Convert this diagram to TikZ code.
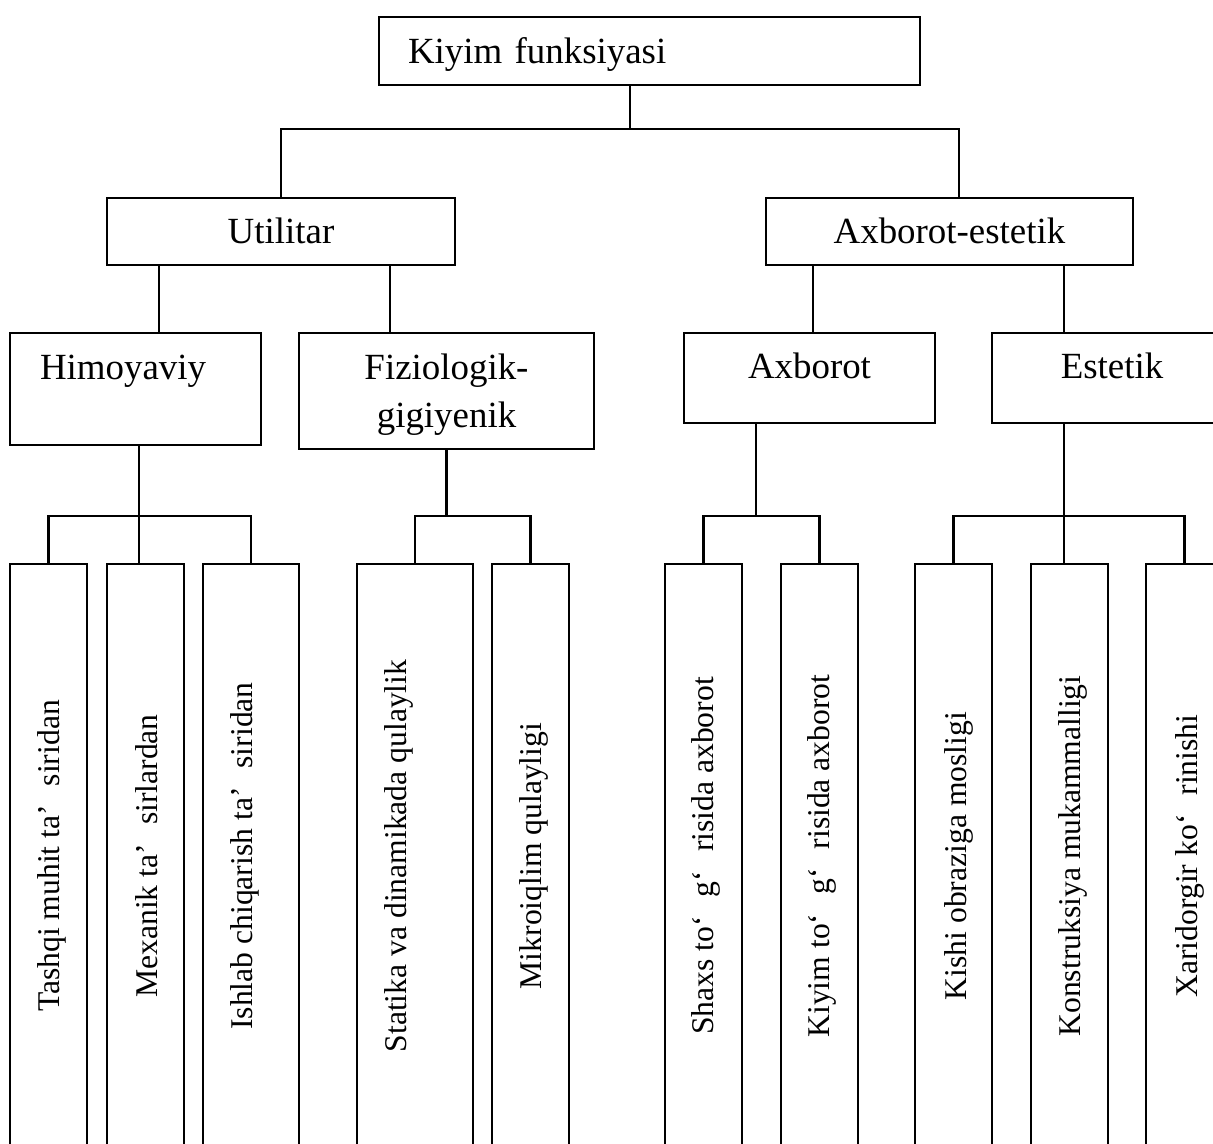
\documentclass[tikz,border=0pt]{standalone}
\usepackage{fontspec}
\setmainfont{Liberation Serif}
\newcommand{\tb}{\hspace{.6em}}
\begin{document}
\begin{tikzpicture}[x=0.1mm,y=-0.1mm,line width=0.6pt,
  box/.style={draw,inner sep=0pt,anchor=north,font=\fontsize{10.5}{13.9}\selectfont},
  leaf/.style={draw,inner sep=0pt,anchor=north,minimum height=58.7mm},
  leaftext/.style={rotate=90,inner sep=0pt,font=\fontsize{9}{11}\selectfont}]
\clip (0,0) rectangle (1213,1144);

% upper boxes
\node[box,minimum width=54.1mm,text width=48.3mm,align=left,inner xsep=2.9mm,text height=4.6mm,text depth=2.2mm] (kiyim) at (649.5,16) {Kiyim funksiyasi};
\node[box,minimum width=34.8mm,text height=4.5mm,text depth=2.2mm] (util) at (281,197) {Utilitar};
\node[box,minimum width=36.7mm,text height=4.5mm,text depth=2.2mm] (axest) at (949.5,197) {Axborot-estetik};

\node[box,minimum width=25.1mm,text width=19.1mm,align=left,inner xsep=3mm,text height=4.6mm,text depth=6.6mm] (himoya) at (135.5,332) {Himoyaviy};
\node[box,minimum width=29.5mm,text width=28mm,align=center,text height=4.6mm,text depth=7mm] (fiz) at (446.5,332) {Fiziologik-\\gigiyenik};
\node[box,minimum width=25.1mm,text height=4.5mm,text depth=4.5mm] (axb) at (809.5,332) {Axborot};
\node[box,minimum width=24mm,text height=4.5mm,text depth=4.5mm] (est) at (1112,332) {Estetik};

% leaves
\node[leaf,minimum width=7.7mm] (l1) at (48.5,563) {};
\node[leaf,minimum width=7.7mm] (l2) at (145.5,563) {};
\node[leaf,minimum width=9.6mm] (l3) at (251,563) {};
\node[leaf,minimum width=11.6mm] (l4) at (415,563) {};
\node[leaf,minimum width=7.7mm] (l5) at (530.5,563) {};
\node[leaf,minimum width=7.7mm] (l6) at (703.5,563) {};
\node[leaf,minimum width=7.7mm] (l7) at (819.5,563) {};
\node[leaf,minimum width=7.7mm] (l8) at (953.5,563) {};
\node[leaf,minimum width=7.7mm] (l9) at (1069.5,563) {};
\node[leaf,minimum width=7.7mm] (l10) at (1184.5,563) {};

\node[leaftext] (t1) at (52,856) {Tashqi muhit ta’\tb siridan};
\node[leaftext] (t2) at (147,856) {Mexanik ta’\tb sirlardan};
\node[leaftext] (t3) at (245,856) {Ishlab chiqarish ta’\tb siridan};
\node[leaftext] (t4) at (399,856) {Statika va dinamikada qulaylik};
\node[leaftext] (t5) at (534,856) {Mikroiqlim qulayligi};
\node[leaftext] (t6) at (706,856) {Shaxs to‘\tb g‘\tb risida axborot};
\node[leaftext] (t7) at (822,856) {Kiyim to‘\tb g‘\tb risida axborot};
\node[leaftext] (t8) at (959,856) {Kishi obraziga mosligi};
\node[leaftext] (t9) at (1073,856) {Konstruksiya mukammalligi};
\node[leaftext] (t10) at (1190,856) {Xaridorgir ko‘\tb rinishi};

% connectors
\coordinate (bar1) at (0,129);
\coordinate (bar2) at (0,516);
\draw ([xshift=-1.95mm]kiyim.south) -- ([xshift=-1.95mm]kiyim.south |- bar1);
\draw (util.north) |- ([xshift=.95mm]axest.north |- bar1) -- ([xshift=.95mm]axest.north);

\draw ([xshift=2.35mm]himoya.north) -- ([xshift=2.35mm]himoya.north |- util.south);
\draw ([xshift=-5.65mm]fiz.north) -- ([xshift=-5.65mm]fiz.north |- util.south);
\draw ([xshift=.35mm]axb.north) -- ([xshift=.35mm]axb.north |- axest.south);
\draw ([xshift=-4.8mm]est.north) -- ([xshift=-4.8mm]est.north |- axest.south);

\draw ([xshift=.35mm]himoya.south) -- ([xshift=.35mm]himoya.south |- l2.north);
\draw (l1.north) |- (l3.north |- bar2) -- (l3.north);
\draw (fiz.south) -- (fiz.south |- bar2);
\draw (l4.north) |- (l5.north |- bar2) -- (l5.north);
\draw ([xshift=-5.35mm]axb.south) -- ([xshift=-5.35mm]axb.south |- bar2);
\draw (l6.north) |- (l7.north |- bar2) -- (l7.north);
\draw ([xshift=-4.8mm]est.south) -- ([xshift=-4.8mm]est.south |- l9.north);
\draw (l8.north) |- (l10.north |- bar2) -- (l10.north);
\end{tikzpicture}
\end{document}
